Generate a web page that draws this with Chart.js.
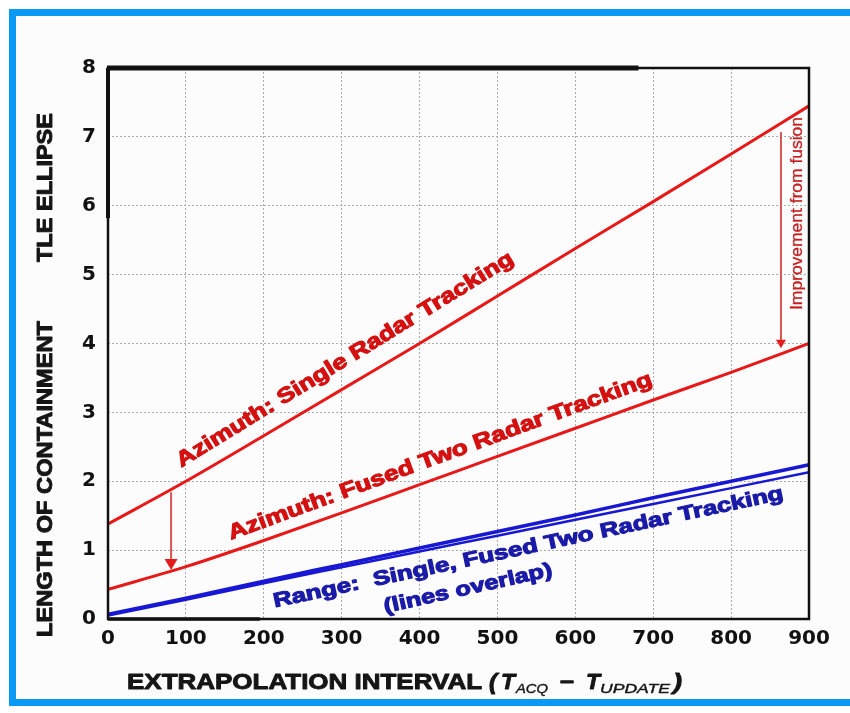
<!DOCTYPE html>
<html>
<head>
<meta charset="utf-8">
<script src="https://cdn.jsdelivr.net/npm/chart.js@4.4.1/dist/chart.umd.min.js"></script>
<style>
  html, body { margin: 0; padding: 0; background: #fff; }
  #wrap { position: relative; width: 850px; height: 713px; overflow: hidden; }
  #frame {
    position: absolute; left: 9px; top: 9px; width: 860px; height: 683px;
    border-top: 7px solid #0a9af5; border-left: 7px solid #0a9af5; border-bottom: 7px solid #0a9af5;
    background: #fcfcfc;
  }
  #chart { position: absolute; left: 0; top: 0; }
</style>
</head>
<body>
<div id="wrap">
  <div id="frame"></div>
  <canvas id="chart" width="850" height="713"></canvas>
</div>
<script>
// Extrapolation interval (x) and containment length (y)
const intervals = [0, 100, 200, 300, 400, 500, 600, 700, 800, 900];
const azimuthSingle = [1.38, 2.00, 2.66, 3.33, 4.00, 4.69, 5.38, 6.06, 6.75, 7.45];
const azimuthFused = [0.43, 0.76, 1.14, 1.54, 1.95, 2.36, 2.77, 3.18, 3.58, 4.00];
const rangeSingle = [0.07, 0.30, 0.55, 0.79, 1.03, 1.27, 1.51, 1.76, 2.00, 2.24];
const rangeFused = [0.05, 0.28, 0.52, 0.75, 0.98, 1.21, 1.44, 1.67, 1.90, 2.13];

const xTicks = [0, 100, 200, 300, 400, 500, 600, 700, 800, 900];
const yTicks = [0, 1, 2, 3, 4, 5, 6, 7, 8];

const RED = '#e81818';
const RED_TEXT = '#d41010';
const BLUE = '#1717d4';
const BLUE_TEXT = '#1a1aa8';

// text drawn along the curves (anchor in data units, angle in degrees, length in px)
const curveLabels = [
    { text: 'Azimuth: Single Radar Tracking', x: 94, y: 2.2, angle: -31.6, len: 392, size: 21, color: RED_TEXT },
    { text: 'Azimuth: Fused Two Radar Tracking', x: 158, y: 1.15, angle: -20.2, len: 450, size: 21, color: RED_TEXT },
    { text: 'Range:  Single, Fused Two Radar Tracking', x: 214, y: 0.17, angle: -12, len: 521, size: 20, color: BLUE_TEXT },
    { text: '(lines overlap)', x: 356, y: 0.09, angle: -12.5, len: 172, size: 20, color: BLUE_TEXT }
];

// improvement arrows: x position, from / to in data units
const arrows = [
    { x: 81, from: 1.84, to: 0.71, head: 13 },
    { x: 864, from: 7.07, to: 3.93, head: 10 }
];

function toPoints(ys) {
    return intervals.map((x, i) => ({ x: x, y: ys[i] }));
}

// draws text stretched to a given length, stroked a little to look heavy
function fitText(ctx, text, px, py, angle, len, font, color, heavy) {
    ctx.save();
    ctx.font = font;
    const w = ctx.measureText(text).width;
    ctx.translate(px, py);
    ctx.rotate(angle * Math.PI / 180);
    ctx.scale(len / w, 1);
    ctx.fillStyle = color;
    ctx.textBaseline = 'alphabetic';
    ctx.textAlign = 'left';
    if (heavy) {
        ctx.strokeStyle = color;
        ctx.lineWidth = heavy;
        ctx.lineJoin = 'round';
        ctx.strokeText(text, 0, 0);
    }
    ctx.fillText(text, 0, 0);
    ctx.restore();
}

const decorPlugin = {
    id: 'decor',
    afterDatasetsDraw(chart) {
        const { ctx, chartArea: a, scales: { x, y } } = chart;

        // plot frame
        ctx.save();
        ctx.strokeStyle = '#111';
        ctx.lineWidth = 2.5;
        ctx.strokeRect(a.left, a.top, a.right - a.left, a.bottom - a.top);
        ctx.lineWidth = 5;
        ctx.beginPath();
        ctx.moveTo(a.left - 1, a.top);
        ctx.lineTo(x.getPixelForValue(681), a.top);
        ctx.stroke();
        ctx.lineWidth = 4;
        ctx.beginPath();
        ctx.moveTo(a.left, a.top);
        ctx.lineTo(a.left, y.getPixelForValue(5.82));
        ctx.stroke();
        ctx.lineWidth = 3.5;
        ctx.beginPath();
        ctx.moveTo(a.left, a.bottom);
        ctx.lineTo(x.getPixelForValue(195), a.bottom);
        ctx.stroke();
        ctx.restore();

        // labels along curves
        curveLabels.forEach(l => {
            fitText(ctx, l.text, x.getPixelForValue(l.x), y.getPixelForValue(l.y), l.angle, l.len,
                'bold ' + l.size + 'px "Liberation Sans", Arial, sans-serif', l.color, 1.1);
        });

        // arrows
        arrows.forEach(ar => {
            const px = x.getPixelForValue(ar.x);
            const y0 = y.getPixelForValue(ar.from);
            const y1 = y.getPixelForValue(ar.to);
            ctx.save();
            ctx.strokeStyle = '#d65454';
            ctx.lineWidth = 2;
            ctx.beginPath();
            ctx.moveTo(px, y0);
            ctx.lineTo(px, y1 - ar.head * 0.7);
            ctx.stroke();
            ctx.fillStyle = '#e41c1c';
            ctx.beginPath();
            ctx.moveTo(px - ar.head / 2, y1 - ar.head * 0.85);
            ctx.lineTo(px + ar.head / 2, y1 - ar.head * 0.85);
            ctx.lineTo(px, y1);
            ctx.closePath();
            ctx.fill();
            ctx.restore();
        });

        // "Improvement from fusion" along right arrow
        fitText(ctx, 'Improvement from fusion', 802, 310, -90, 193,
            '16px "Liberation Sans", Arial, sans-serif', '#c42020', 0.3);
    },
    afterDraw(chart) {
        const titleFont = 'bold 22px "Liberation Sans", Arial, sans-serif';
        const ink = '#151515';
        const { ctx } = chart;

        // y axis title, two parts
        fitText(ctx, 'LENGTH OF CONTAINMENT', 52, 637, -90, 316, titleFont, ink, 0.9);
        fitText(ctx, 'TLE ELLIPSE', 52, 262, -90, 149, titleFont, ink, 0.9);

        // x axis title with subscripts
        const base = 689;
        const it = 'bold italic 22px "Liberation Sans", Arial, sans-serif';
        fitText(ctx, 'EXTRAPOLATION INTERVAL', 127, base, 0, 355, titleFont, ink, 0.9);
        fitText(ctx, '(', 489, base, 0, 8, it, ink, 0.9);
        fitText(ctx, 'T', 501, base, 0, 14, it, ink, 0.9);
        fitText(ctx, '\u2013', 560, base - 1, 0, 14, titleFont, ink, 0.9);
        fitText(ctx, 'T', 586, base, 0, 14, it, ink, 0.9);
        fitText(ctx, ')', 673, base, 0, 9, it, ink, 0.9);
        fitText(ctx, 'ACQ', 516, base + 4, 0, 32, 'italic 13px "Liberation Sans", Arial, sans-serif', ink, 0.4);
        fitText(ctx, 'UPDATE', 600, base + 4, 0, 70, 'italic 13px "Liberation Sans", Arial, sans-serif', ink, 0.4);
    }
};

const tickFont = { family: '"DejaVu Sans", sans-serif', size: 20, weight: 'bold' };

new Chart(document.getElementById('chart'), {
    type: 'line',
    data: {
        datasets: [
            {
                label: 'Azimuth: Single Radar Tracking',
                data: toPoints(azimuthSingle),
                borderColor: RED,
                borderWidth: 3,
                pointRadius: 0,
                cubicInterpolationMode: 'monotone'
            },
            {
                label: 'Azimuth: Fused Two Radar Tracking',
                data: toPoints(azimuthFused),
                borderColor: RED,
                borderWidth: 3,
                pointRadius: 0,
                cubicInterpolationMode: 'monotone'
            },
            {
                label: 'Range: Single Radar Tracking',
                data: toPoints(rangeSingle),
                borderColor: BLUE,
                borderWidth: 3.5,
                pointRadius: 0,
                cubicInterpolationMode: 'monotone'
            },
            {
                label: 'Range: Fused Two Radar Tracking',
                data: toPoints(rangeFused),
                borderColor: BLUE,
                borderWidth: 2.5,
                pointRadius: 0,
                cubicInterpolationMode: 'monotone'
            }
        ]
    },
    options: {
        responsive: false,
        animation: false,
        layout: { padding: { left: 0, top: 68, right: 41, bottom: 0 } },
        plugins: {
            legend: { display: false },
            tooltip: { enabled: false }
        },
        scales: {
            x: {
                type: 'linear',
                min: 0,
                max: 900,
                afterBuildTicks: scale => { scale.ticks = xTicks.map(v => ({ value: v })); },
                afterFit: scale => { scale.height = 94; },
                ticks: { color: '#111', font: tickFont, padding: 8, maxRotation: 0 },
                grid: { color: '#ababab', lineWidth: 1, drawTicks: false },
                border: { display: false, dash: [2, 2] }
            },
            y: {
                type: 'linear',
                min: 0,
                max: 8,
                afterBuildTicks: scale => { scale.ticks = yTicks.map(v => ({ value: v })); },
                afterFit: scale => { scale.width = 108; },
                ticks: { color: '#111', font: tickFont, padding: 12 },
                grid: { color: '#ababab', lineWidth: 1, drawTicks: false },
                border: { display: false, dash: [2, 2] }
            }
        }
    },
    plugins: [decorPlugin]
});
</script>
</body>
</html>
